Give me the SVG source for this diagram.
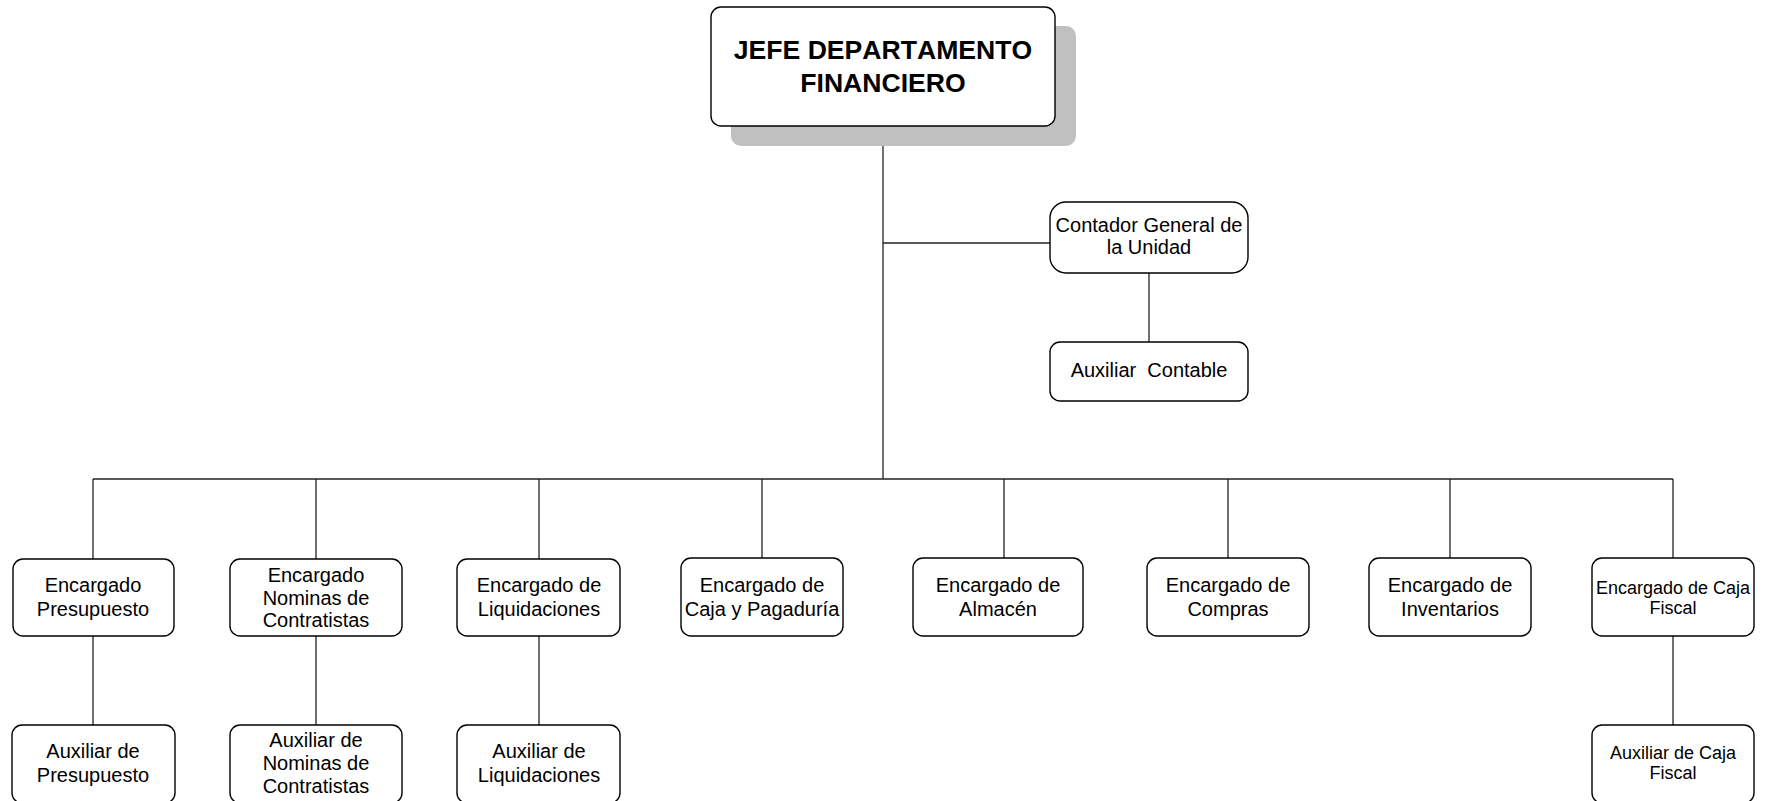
<svg xmlns="http://www.w3.org/2000/svg" width="1773" height="801" viewBox="0 0 1773 801">
  <style>
    .box { fill: #ffffff; stroke: #000000; stroke-width: 1.4; }
    .shadow { fill: #c0c0c0; stroke: none; }
    .conn { stroke: #222222; stroke-width: 1.3; fill: none; }
    text { font-family: "Liberation Sans", Arial, sans-serif; fill: #000000; text-anchor: middle; }
    .t { font-size: 20px; }
    .ts { font-size: 18px; }
    .title { font-size: 26.6px; font-weight: bold; font-kerning: none; }
  </style>

  <rect width="1773" height="801" fill="#ffffff"/>

  <!-- connectors -->
  <g id="connectors">
    <line class="conn" x1="883" y1="126" x2="883" y2="479"/>
    <line class="conn" x1="883" y1="243" x2="1050" y2="243"/>
    <line class="conn" x1="1149" y1="273" x2="1149" y2="342"/>
    <line class="conn" x1="93" y1="479" x2="1673" y2="479"/>
    <line class="conn" x1="93" y1="479" x2="93" y2="559"/>
    <line class="conn" x1="316" y1="479" x2="316" y2="568"/>
    <line class="conn" x1="539" y1="479" x2="539" y2="567"/>
    <line class="conn" x1="762" y1="479" x2="762" y2="558"/>
    <line class="conn" x1="1004" y1="479" x2="1004" y2="558"/>
    <line class="conn" x1="1228" y1="479" x2="1228" y2="558"/>
    <line class="conn" x1="1450" y1="479" x2="1450" y2="558"/>
    <line class="conn" x1="1673" y1="479" x2="1673" y2="558"/>
    <line class="conn" x1="93" y1="636" x2="93" y2="725"/>
    <line class="conn" x1="316" y1="636" x2="316" y2="725"/>
    <line class="conn" x1="539" y1="636" x2="539" y2="725"/>
    <line class="conn" x1="1673" y1="636" x2="1673" y2="725"/>
  </g>

  <!-- head of department -->
  <g id="jefe">
    <rect class="shadow" x="731" y="26" width="345" height="120" rx="10"/>
    <rect class="box" x="711" y="7" width="344" height="119" rx="10"/>
    <text class="title" x="883" y="59">JEFE DEPARTAMENTO</text>
    <text class="title" x="883" y="92">FINANCIERO</text>
  </g>

  <g id="contador">
    <rect class="box" x="1050" y="202" width="198" height="71" rx="16"/>
    <text class="t" x="1149" y="232">Contador General de</text>
    <text class="t" x="1149" y="254">la Unidad</text>
  </g>

  <g id="auxiliar-contable">
    <rect class="box" x="1050" y="342" width="198" height="59" rx="10"/>
    <text class="t" x="1149" y="377" xml:space="preserve">Auxiliar  Contable</text>
  </g>

  <!-- second level -->
  <g id="enc-presupuesto">
    <rect class="box" x="13" y="559" width="161" height="77" rx="10"/>
    <text class="t" x="93" y="592">Encargado</text>
    <text class="t" x="93" y="616">Presupuesto</text>
  </g>

  <g id="enc-nominas">
    <rect class="box" x="230" y="559" width="172" height="77" rx="10"/>
    <text class="t" x="316" y="582">Encargado</text>
    <text class="t" x="316" y="604.5">Nominas de</text>
    <text class="t" x="316" y="627">Contratistas</text>
  </g>

  <g id="enc-liquidaciones">
    <rect class="box" x="457" y="559" width="163" height="77" rx="10"/>
    <text class="t" x="539" y="592">Encargado de</text>
    <text class="t" x="539" y="616">Liquidaciones</text>
  </g>

  <g id="enc-caja-pagaduria">
    <rect class="box" x="681" y="558" width="162" height="78" rx="10"/>
    <text class="t" x="762" y="592">Encargado de</text>
    <text class="t" x="762" y="616">Caja y Pagaduría</text>
  </g>

  <g id="enc-almacen">
    <rect class="box" x="913" y="558" width="170" height="78" rx="10"/>
    <text class="t" x="998" y="592">Encargado de</text>
    <text class="t" x="998" y="616">Almacén</text>
  </g>

  <g id="enc-compras">
    <rect class="box" x="1147" y="558" width="162" height="78" rx="10"/>
    <text class="t" x="1228" y="592">Encargado de</text>
    <text class="t" x="1228" y="616">Compras</text>
  </g>

  <g id="enc-inventarios">
    <rect class="box" x="1369" y="558" width="162" height="78" rx="10"/>
    <text class="t" x="1450" y="592">Encargado de</text>
    <text class="t" x="1450" y="616">Inventarios</text>
  </g>

  <g id="enc-caja-fiscal">
    <rect class="box" x="1592" y="558" width="162" height="78" rx="10"/>
    <text class="ts" x="1673" y="594">Encargado de Caja</text>
    <text class="ts" x="1673" y="614">Fiscal</text>
  </g>

  <!-- third level -->
  <g id="aux-presupuesto">
    <rect class="box" x="12" y="725" width="163" height="78" rx="10"/>
    <text class="t" x="93" y="758">Auxiliar de</text>
    <text class="t" x="93" y="782">Presupuesto</text>
  </g>

  <g id="aux-nominas">
    <rect class="box" x="230" y="725" width="172" height="78" rx="10"/>
    <text class="t" x="316" y="747">Auxiliar de</text>
    <text class="t" x="316" y="770">Nominas de</text>
    <text class="t" x="316" y="793">Contratistas</text>
  </g>

  <g id="aux-liquidaciones">
    <rect class="box" x="457" y="725" width="163" height="78" rx="10"/>
    <text class="t" x="539" y="758">Auxiliar de</text>
    <text class="t" x="539" y="782">Liquidaciones</text>
  </g>

  <g id="aux-caja-fiscal">
    <rect class="box" x="1592" y="725" width="162" height="78" rx="10"/>
    <text class="ts" x="1673" y="759">Auxiliar de Caja</text>
    <text class="ts" x="1673" y="779">Fiscal</text>
  </g>
</svg>
